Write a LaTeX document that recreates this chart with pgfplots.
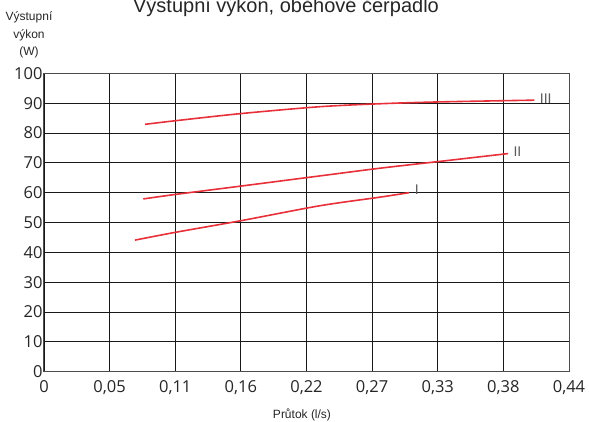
\documentclass[border=0pt]{standalone}
\usepackage{fontspec}
\setmainfont{Liberation Sans}
\newfontfamily\tickfont{Open Sans}
\usepackage{pgfplots}
\pgfplotsset{compat=1.18}
\definecolor{curvered}{RGB}{232,48,58}
\begin{document}
\begin{tikzpicture}[x=1pt,y=1pt]
\begin{axis}[
  at={(0pt,0pt)}, anchor=south west,
  scale only axis, width=525pt, height=298.4pt,
  xmin=0, xmax=0.44, ymin=0, ymax=100,
  xtick={0,0.055,0.11,0.165,0.22,0.275,0.33,0.385,0.44},
  xticklabels={0,{0,05},{0,11},{0,16},{0,22},{0,27},{0,33},{0,38},{0,44}},
  ytick={0,10,...,100},
  grid=major,
  major grid style={black!90, line width=0.9pt},
  axis line style={black!70, line width=1pt},
  major tick length=0pt,
  /pgf/number format/assume math mode=true,
  ticklabel style={font=\fontsize{16.5}{18}\tickfont, text=black!85, inner sep=0pt},
  xticklabel style={anchor=north, yshift=-8.3pt},
  yticklabel style={anchor=east, xshift=-1.3pt},
  clip=false,
]
\addplot[curvered, line width=1.6pt, smooth] coordinates {
  (0.0847,82.9) (0.11,84.1) (0.165,86.5) (0.231,88.8) (0.2817,89.8) (0.33,90.4) (0.411,91.0)};
\addplot[curvered, line width=1.6pt, smooth] coordinates {
  (0.0832,57.9) (0.11,59.4) (0.165,62.2) (0.231,65.6) (0.2817,68.2) (0.33,70.4) (0.389,73.1)};
\addplot[curvered, line width=1.6pt, smooth] coordinates {
  (0.0763,44.1) (0.11,46.7) (0.165,50.6) (0.231,55.6) (0.2817,58.5) (0.306,60.0)};
\node[font=\fontsize{14}{14}\selectfont, text=black!65, inner sep=0pt] at (axis cs:0.3124,61.1) {I};
\node[font=\fontsize{14}{14}\selectfont, text=black!65, inner sep=0pt] at (axis cs:0.3968,73.7) {II};
\node[font=\fontsize{14}{14}\selectfont, text=black!65, inner sep=0pt] at (axis cs:0.4205,91.5) {III};
\end{axis}
\node[anchor=base, inner sep=0pt, font=\fontsize{20}{22}\selectfont, text=black!85] at (242pt,359.2pt) {Výstupní výkon, oběhové čerpadlo};
\node[anchor=base, inner sep=0pt, font=\fontsize{12}{14}\selectfont, text=black!85] at (-15pt,351pt) {Výstupní};
\node[anchor=base, inner sep=0pt, font=\fontsize{12}{14}\selectfont, text=black!85] at (-15pt,332.7pt) {výkon};
\node[anchor=base, inner sep=0pt, font=\fontsize{12}{14}\selectfont, text=black!85] at (-15pt,315.7pt) {(W)};
\node[anchor=base, inner sep=0pt, font=\fontsize{12}{14}\selectfont, text=black!85] at (258pt,-46.8pt) {Průtok (l/s)};
\pgfresetboundingbox
\path[use as bounding box] (-44pt,-49.3pt) rectangle (545pt,371.7pt);
\end{tikzpicture}
\end{document}
